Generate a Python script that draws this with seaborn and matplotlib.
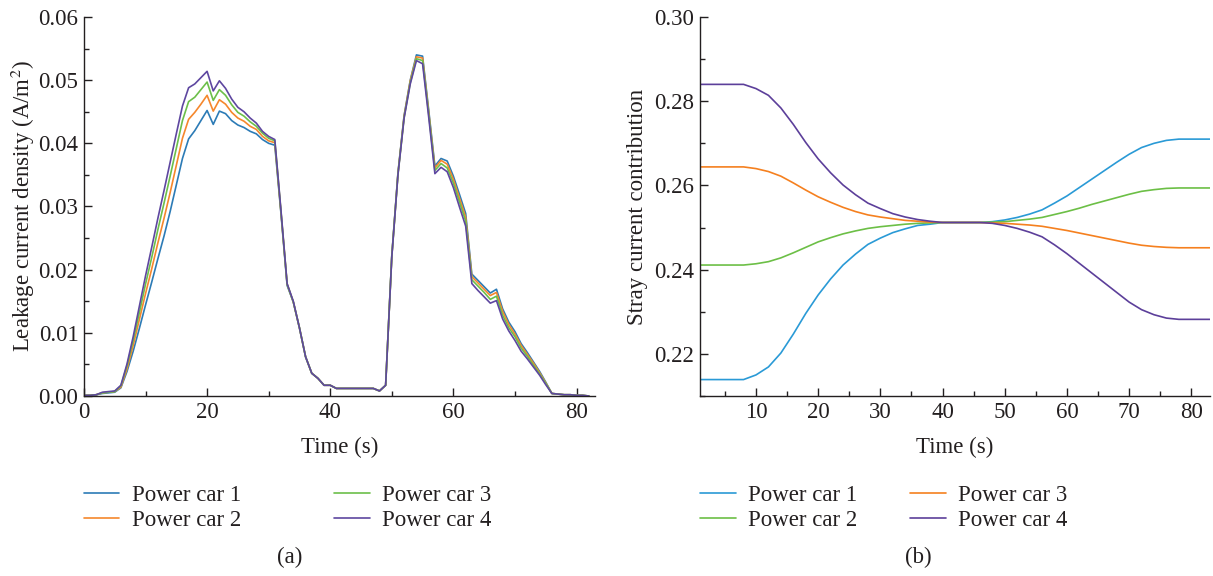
import numpy as np
import pandas as pd
import matplotlib
matplotlib.use("Agg")
import matplotlib.pyplot as plt
from matplotlib.ticker import MultipleLocator, FormatStrFormatter
import seaborn as sns

# ---------------- (a) leakage current density, one value per second ----------------
time_a = list(range(0, 83))

leak_car1 = [0.0001, 0.0001, 0.0002, 0.0004, 0.0005, 0.0006, 0.0013, 0.0039,
             0.0071, 0.0107, 0.0144, 0.0180, 0.0217, 0.0253, 0.0292, 0.0334,
             0.0376, 0.0407, 0.0420, 0.0436, 0.0452, 0.0430, 0.0451, 0.0447,
             0.0436, 0.0429, 0.0425, 0.0419, 0.0415, 0.0406, 0.0400, 0.0397,
             0.0289, 0.0175, 0.0149, 0.0108, 0.0062, 0.0036, 0.0028, 0.0017,
             0.0017, 0.0012, 0.0012, 0.0012, 0.0012, 0.0012, 0.0012, 0.0012,
             0.0008, 0.0017, 0.0222, 0.0353, 0.0444, 0.0500, 0.0540, 0.0538,
             0.0452, 0.0364, 0.0376, 0.0372, 0.0348, 0.0319, 0.0289, 0.0193,
             0.0183, 0.0173, 0.0163, 0.0169, 0.0138, 0.0117, 0.0102, 0.0083,
             0.0069, 0.0054, 0.0039, 0.0022, 0.0004, 0.0003, 0.0002, 0.0002,
             0.0001, 0.0001, 0.0000]
leak_car2 = [0.0001, 0.0001, 0.0002, 0.0005, 0.0006, 0.0007, 0.0014, 0.0043,
             0.0080, 0.0121, 0.0162, 0.0201, 0.0242, 0.0281, 0.0322, 0.0365,
             0.0408, 0.0438, 0.0449, 0.0462, 0.0476, 0.0451, 0.0469, 0.0462,
             0.0449, 0.0440, 0.0435, 0.0427, 0.0422, 0.0411, 0.0404, 0.0401,
             0.0291, 0.0177, 0.0149, 0.0108, 0.0062, 0.0036, 0.0028, 0.0017,
             0.0017, 0.0012, 0.0012, 0.0012, 0.0012, 0.0012, 0.0012, 0.0012,
             0.0008, 0.0017, 0.0221, 0.0352, 0.0443, 0.0499, 0.0537, 0.0535,
             0.0449, 0.0361, 0.0373, 0.0367, 0.0343, 0.0313, 0.0283, 0.0189,
             0.0179, 0.0169, 0.0159, 0.0164, 0.0134, 0.0113, 0.0098, 0.0080,
             0.0066, 0.0052, 0.0037, 0.0021, 0.0004, 0.0003, 0.0002, 0.0002,
             0.0001, 0.0001, 0.0000]
leak_car3 = [0.0001, 0.0001, 0.0002, 0.0005, 0.0006, 0.0007, 0.0016, 0.0048,
             0.0088, 0.0132, 0.0177, 0.0219, 0.0263, 0.0305, 0.0348, 0.0392,
             0.0436, 0.0466, 0.0473, 0.0485, 0.0497, 0.0468, 0.0485, 0.0476,
             0.0461, 0.0449, 0.0443, 0.0434, 0.0427, 0.0416, 0.0408, 0.0404,
             0.0292, 0.0177, 0.0149, 0.0108, 0.0062, 0.0036, 0.0028, 0.0017,
             0.0017, 0.0012, 0.0012, 0.0012, 0.0012, 0.0012, 0.0012, 0.0012,
             0.0008, 0.0017, 0.0221, 0.0351, 0.0441, 0.0496, 0.0534, 0.0531,
             0.0446, 0.0357, 0.0368, 0.0361, 0.0337, 0.0307, 0.0277, 0.0184,
             0.0174, 0.0164, 0.0153, 0.0158, 0.0128, 0.0108, 0.0094, 0.0076,
             0.0063, 0.0049, 0.0035, 0.0020, 0.0004, 0.0003, 0.0002, 0.0002,
             0.0001, 0.0001, 0.0000]
leak_car4 = [0.0001, 0.0001, 0.0002, 0.0006, 0.0007, 0.0008, 0.0017, 0.0051,
             0.0094, 0.0142, 0.0190, 0.0235, 0.0281, 0.0325, 0.0370, 0.0415,
             0.0459, 0.0488, 0.0494, 0.0504, 0.0514, 0.0483, 0.0499, 0.0487,
             0.0470, 0.0457, 0.0450, 0.0440, 0.0432, 0.0419, 0.0411, 0.0406,
             0.0294, 0.0178, 0.0150, 0.0108, 0.0062, 0.0036, 0.0028, 0.0017,
             0.0017, 0.0012, 0.0012, 0.0012, 0.0012, 0.0012, 0.0012, 0.0012,
             0.0008, 0.0017, 0.0220, 0.0350, 0.0440, 0.0494, 0.0531, 0.0526,
             0.0441, 0.0352, 0.0362, 0.0355, 0.0330, 0.0299, 0.0269, 0.0178,
             0.0167, 0.0157, 0.0147, 0.0151, 0.0122, 0.0103, 0.0088, 0.0071,
             0.0059, 0.0046, 0.0033, 0.0018, 0.0004, 0.0003, 0.0002, 0.0002,
             0.0001, 0.0001, 0.0000]

# ---------------- (b) stray current contribution ----------------
time_b = [1, 4, 8, 10, 12, 14, 16, 18, 20, 22, 24, 26, 28, 30, 32, 34, 36, 38,
          40, 42, 44, 46, 48, 50, 52, 54, 56, 58, 60, 62, 64, 66, 68, 70, 72,
          74, 76, 78, 80, 83]

share_car1 = [0.2139, 0.2139, 0.2139, 0.2150, 0.2169, 0.2202, 0.2247, 0.2296,
              0.2340, 0.2378, 0.2411, 0.2437, 0.2460, 0.2475, 0.2488, 0.2497,
              0.2505, 0.2508, 0.2512, 0.2512, 0.2512, 0.2512, 0.2514, 0.2518,
              0.2524, 0.2532, 0.2542, 0.2558, 0.2575, 0.2595, 0.2615, 0.2635,
              0.2655, 0.2674, 0.2690, 0.2700, 0.2707, 0.2710, 0.2710, 0.2710]
share_car2 = [0.2411, 0.2411, 0.2411, 0.2414, 0.2419, 0.2428, 0.2440, 0.2453,
              0.2466, 0.2476, 0.2485, 0.2492, 0.2498, 0.2502, 0.2505, 0.2508,
              0.2510, 0.2511, 0.2512, 0.2512, 0.2512, 0.2512, 0.2513, 0.2514,
              0.2517, 0.2520, 0.2524, 0.2531, 0.2538, 0.2546, 0.2555, 0.2563,
              0.2571, 0.2579, 0.2586, 0.2590, 0.2593, 0.2594, 0.2594, 0.2594]
share_car3 = [0.2644, 0.2644, 0.2644, 0.2640, 0.2633, 0.2622, 0.2606, 0.2589,
              0.2573, 0.2560, 0.2548, 0.2538, 0.2530, 0.2525, 0.2521, 0.2517,
              0.2515, 0.2513, 0.2512, 0.2512, 0.2512, 0.2512, 0.2511, 0.2510,
              0.2508, 0.2506, 0.2503, 0.2498, 0.2493, 0.2487, 0.2481, 0.2475,
              0.2469, 0.2463, 0.2458, 0.2455, 0.2453, 0.2452, 0.2452, 0.2452]
share_car4 = [0.2840, 0.2840, 0.2840, 0.2830, 0.2814, 0.2784, 0.2745, 0.2702,
              0.2663, 0.2630, 0.2601, 0.2578, 0.2558, 0.2545, 0.2533, 0.2525,
              0.2519, 0.2515, 0.2512, 0.2512, 0.2512, 0.2512, 0.2510, 0.2505,
              0.2498, 0.2489, 0.2478, 0.2459, 0.2438, 0.2415, 0.2392, 0.2369,
              0.2346, 0.2323, 0.2305, 0.2293, 0.2285, 0.2282, 0.2282, 0.2282]

car_names = ["Power car 1", "Power car 2", "Power car 3", "Power car 4"]
colors_a = ["#2c7bb6", "#f5872c", "#6cbf4a", "#5e47a0"]
colors_b = ["#2a9ad6", "#6cbf46", "#f5801f", "#5c3f9a"]

df_a = pd.DataFrame({"t": time_a, car_names[0]: leak_car1, car_names[1]: leak_car2,
                     car_names[2]: leak_car3, car_names[3]: leak_car4})
df_a = df_a.melt(id_vars="t", var_name="car", value_name="v")
df_b = pd.DataFrame({"t": time_b, car_names[0]: share_car1, car_names[1]: share_car2,
                     car_names[2]: share_car3, car_names[3]: share_car4})
df_b = df_b.melt(id_vars="t", var_name="car", value_name="v")

sns.set_theme(style="ticks")
plt.rcParams["font.family"] = ["Liberation Serif", "DejaVu Serif"]
plt.rcParams["mathtext.fontset"] = "stix"
plt.rcParams["axes.linewidth"] = 1.0
plt.rcParams["xtick.direction"] = "in"
plt.rcParams["ytick.direction"] = "in"
plt.rcParams["text.color"] = "#231f20"
plt.rcParams["axes.labelcolor"] = "#231f20"

fig = plt.figure(figsize=(12.13, 5.76), dpi=100)
ax_a = fig.add_axes([0.0692, 0.3125, 0.4213, 0.658])
ax_b = fig.add_axes([0.5771, 0.3125, 0.4204, 0.658])

sns.lineplot(data=df_a, x="t", y="v", hue="car", hue_order=car_names,
             palette=dict(zip(car_names, colors_a)), linewidth=1.2, ax=ax_a)
sns.lineplot(data=df_b, x="t", y="v", hue="car", hue_order=car_names,
             palette=dict(zip(car_names, colors_b)), linewidth=1.2, ax=ax_b)

fs = 16.5
for ax in (ax_a, ax_b):
    for s in ("top", "right"):
        ax.spines[s].set_visible(False)
    ax.spines["left"].set_color("#231f20")
    ax.spines["bottom"].set_color("#231f20")
    ax.tick_params(which="major", length=6, width=1.0, labelsize=fs,
                   color="#231f20", labelcolor="#231f20", pad=4)
    ax.tick_params(which="minor", length=3.5, width=1.0, color="#231f20")
    ax.set_xlabel("Time (s)", fontsize=fs, labelpad=10)

ax_a.set_xlim(0, 83)
ax_a.set_ylim(0, 0.06)
ax_a.xaxis.set_major_locator(MultipleLocator(20))
ax_a.xaxis.set_minor_locator(MultipleLocator(10))
ax_a.yaxis.set_major_locator(MultipleLocator(0.01))
ax_a.yaxis.set_minor_locator(MultipleLocator(0.005))
ax_a.yaxis.set_major_formatter(FormatStrFormatter("%.2f"))
ax_a.set_ylabel("Leakage current density (A/m$^2$)", fontsize=fs, labelpad=1)

ax_b.set_xlim(1, 83)
ax_b.set_ylim(0.21, 0.30)
ax_b.set_xticks([10, 20, 30, 40, 50, 60, 70, 80])
ax_b.xaxis.set_minor_locator(MultipleLocator(5))
ax_b.yaxis.set_major_locator(MultipleLocator(0.02))
ax_b.yaxis.set_minor_locator(MultipleLocator(0.01))
ax_b.yaxis.set_major_formatter(FormatStrFormatter("%.2f"))
ax_b.set_ylabel("Stray current contribution", fontsize=fs, labelpad=5)

legend_kw = dict(ncol=2, loc="upper left", bbox_to_anchor=(0.0, -0.234),
                 frameon=False, fontsize=fs, handlelength=1.55, labelspacing=0.2,
                 handletextpad=0.55, borderpad=0.0, borderaxespad=0.0)
ax_a.legend(columnspacing=4.05, **legend_kw)
ax_b.legend(columnspacing=2.3, **legend_kw)

fig.text(290 / 1213, 1 - 557 / 576, "(a)", ha="center", va="center", fontsize=fs)
fig.text(918 / 1213, 1 - 557 / 576, "(b)", ha="center", va="center", fontsize=fs)

fig.savefig("out.png", dpi=100)
